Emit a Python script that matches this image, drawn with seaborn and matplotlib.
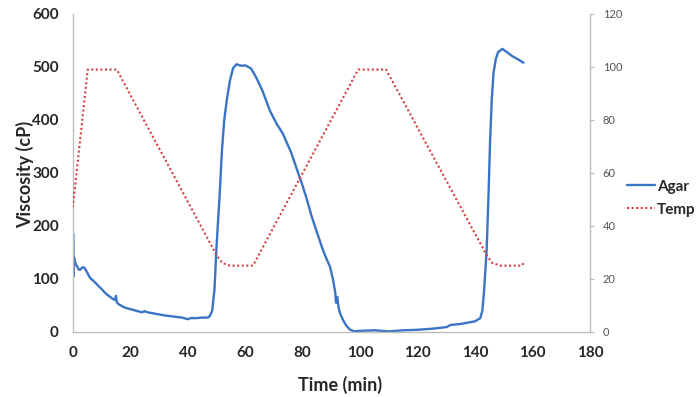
import numpy as np
import pandas as pd
import matplotlib
matplotlib.use("Agg")
import matplotlib.pyplot as plt
import seaborn as sns

# Agar viscosity (cP)
agar_time = [0.2, 0.3, 0.45, 0.6, 0.8, 1, 1.5, 2, 2.5, 3, 3.5, 4, 4.5, 5, 6, 7, 8, 9, 10, 11, 12, 13, 14,
             14.8, 15, 15.3, 16, 17, 18, 20, 22, 24, 25, 26, 28, 30, 32, 35, 38, 40, 41, 43, 45, 47, 47.7,
             48.5, 49.3, 50, 50.5, 51, 51.9, 52.7, 53.6, 54.7, 55.8, 57, 58, 59, 60, 61, 62, 63, 64, 66,
             68.6, 71, 73, 76, 78.4, 80, 81.5, 83, 85, 87, 88.5, 89.5, 90.5, 91.3, 91.6, 92, 92.5, 93, 94,
             95, 96.5, 98, 100, 105, 110, 115, 120, 125, 130, 131.4, 135, 138, 140, 141.8, 142.5, 143,
             143.5, 144, 144.6, 145.2, 145.8, 146.4, 147.2, 148, 149.5, 151, 153, 155, 156.8]
agar_visc = [185, 105, 140, 135, 132, 128, 124, 118, 117, 120, 122, 121, 117, 112, 102, 97, 92, 86, 81, 75, 70,
             66, 62, 60, 68, 56, 52, 49, 46, 43, 40, 37, 39, 37, 35, 33, 31, 29, 27, 24, 26, 26, 27, 27, 30,
             40, 80, 160, 205, 249, 343, 400, 438, 475, 498, 505, 503, 502, 503, 500, 497, 488, 478, 455,
             417, 392, 375, 338, 300, 275, 249, 220, 187, 155, 135, 123, 100, 75, 55, 66, 45, 35, 23, 13,
             4, 1, 2, 3, 1, 3, 4, 6, 9, 13, 15, 18, 20, 26, 40, 70, 110, 155, 249, 360, 440, 489, 515, 528,
             534, 528, 520, 514, 508]

# Temperature profile (°C)
temp_time = [0, 5.2, 15.3, 50, 52, 54.7, 62.7, 99.3, 109, 144, 146, 148.8, 156.3, 156.8]
temp_val = [47, 99, 99, 29, 26, 25, 25, 99, 99, 29, 26, 25, 25, 26]

agar = pd.DataFrame({"Time": agar_time, "Viscosity": agar_visc})
temp = pd.DataFrame({"Time": temp_time, "Temp": temp_val})

sns.set_style("white")
plt.rcParams["font.family"] = ["Lato", "DejaVu Sans"]

fig = plt.figure(figsize=(7, 3.97), dpi=100)
ax = fig.add_axes([0.104, 0.164, 0.739, 0.801])
ax2 = ax.twinx()

sns.lineplot(data=agar, x="Time", y="Viscosity", ax=ax, color="#3a74c4", linewidth=1.7, label="Agar", legend=False)
sns.lineplot(data=temp, x="Time", y="Temp", ax=ax2, color="#d9403f", linewidth=1.5,
             linestyle=(0, (1, 1.2)), label="Temp", legend=False)

ax.set_xlim(0, 180)
ax.set_ylim(0, 600)
ax2.set_ylim(0, 120)
ax.set_xticks(range(0, 181, 20))
ax.set_yticks(range(0, 601, 100))
ax2.set_yticks(range(0, 121, 20))

ax.set_xlabel("Time (min)", fontsize=13, fontweight="bold", va="center")
ax.set_ylabel("Viscosity (cP)", fontsize=13, fontweight="bold", va="center")
ax.xaxis.set_label_coords(0.517, -0.166)
ax.yaxis.set_label_coords(-0.092, 0.495)
ax2.set_ylabel("")

for lab in ax.get_xticklabels() + ax.get_yticklabels():
    lab.set_fontweight("bold")
    lab.set_fontsize(11)
ax.tick_params(axis="both", length=0, pad=10)
ax2.tick_params(axis="y", length=3, width=0.8, color="#bbbbbb", labelsize=8, labelcolor="#555555", pad=6)

for a in (ax, ax2):
    a.spines["top"].set_visible(False)
    for s in ("left", "right", "bottom"):
        a.spines[s].set_color("#bdbdbd")
        a.spines[s].set_linewidth(1)
ax.spines["right"].set_visible(False)
ax2.spines["left"].set_visible(False)
ax2.spines["bottom"].set_visible(False)

h1, l1 = ax.get_legend_handles_labels()
h2, l2 = ax2.get_legend_handles_labels()
leg = fig.legend(h1 + h2, l1 + l2, loc="center left", bbox_to_anchor=(0.895, 0.501),
                 frameon=False, borderpad=0, borderaxespad=0, handlelength=1.85,
                 handletextpad=0.15, labelspacing=0.6, prop={"weight": "bold", "size": 11})

fig.savefig("out.png", dpi=100)
